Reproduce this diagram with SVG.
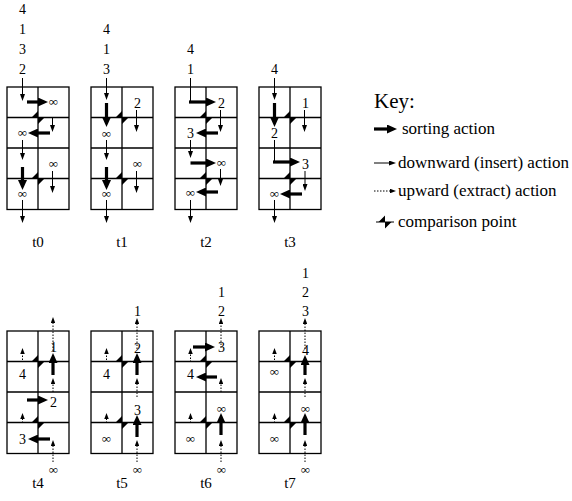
<svg xmlns="http://www.w3.org/2000/svg" xmlns:xlink="http://www.w3.org/1999/xlink" width="572" height="501" viewBox="0 0 572 501">
<style>
text{font-family:"Liberation Serif","Times New Roman",serif;fill:#000}
.n{font-size:14px;text-anchor:middle}
.inf{font-size:13px;text-anchor:middle}
.lab{font-size:15px;text-anchor:middle}
.key{font-size:17px}
.grid{fill:none;stroke:#000;stroke-width:1.3}
.tn{stroke:#000;stroke-width:1;fill:none}
.tna{stroke:#000;stroke-width:1;fill:none;marker-end:url(#ht)}
.tk{stroke:#000;stroke-width:3.2;fill:none;marker-end:url(#hk)}
.dt{stroke:#000;stroke-width:1;fill:none;stroke-dasharray:1.5 1.5;marker-end:url(#hd)}
</style>
<defs>
<marker id="ht" viewBox="0 0 7 5" refX="1" refY="2.5" markerWidth="7" markerHeight="5" orient="auto" markerUnits="userSpaceOnUse"><path d="M0,0L7,2.5L0,5Z"/></marker>
<marker id="hk" viewBox="0 0 10 9" refX="1" refY="4.5" markerWidth="10" markerHeight="9" orient="auto" markerUnits="userSpaceOnUse"><path d="M0,0L10,4.5L0,9Z"/></marker>
<marker id="hd" viewBox="0 0 6 4.5" refX="1" refY="2.25" markerWidth="6" markerHeight="4.5" orient="auto" markerUnits="userSpaceOnUse"><path d="M0,0L6,2.25L0,4.5Z"/></marker>
<path id="cp" d="M-6.5,0L0,-6.5L0,0ZM0,0L6.5,0L0,6.5Z"/>
<g id="grid">
<rect class="grid" x="0" y="0" width="62" height="122.5"/>
<path class="grid" d="M31,0V122.5M0,30.5H62M0,61H62M0,91.5H62"/>
<use xlink:href="#cp" x="31" y="30.5"/>
<use xlink:href="#cp" x="31" y="91.5"/>
</g>
</defs>

<g id="t0" transform="translate(7,87)">
<use xlink:href="#grid"/>
<text class="n" x="15.5" y="-73">4</text><text class="n" x="15.5" y="-53">1</text><text class="n" x="15.5" y="-33">3</text><text class="n" x="15.5" y="-13">2</text>
<text class="inf" x="46.5" y="18.5">∞</text>
<text class="inf" x="15.5" y="49.5">∞</text>
<text class="inf" x="46.5" y="80.5">∞</text>
<text class="inf" x="15.5" y="110.5">∞</text>
<text class="lab" x="31" y="160">t0</text>
</g>
<g id="t1" transform="translate(91,87)">
<use xlink:href="#grid"/>
<text class="n" x="15.5" y="-53">4</text><text class="n" x="15.5" y="-33">1</text><text class="n" x="15.5" y="-13">3</text>
<text class="n" x="46.5" y="21">2</text>
<text class="inf" x="15.5" y="50.5">∞</text>
<text class="inf" x="46.5" y="80.5">∞</text>
<text class="inf" x="15.5" y="110.5">∞</text>
<text class="lab" x="31" y="160">t1</text>
</g>
<g id="t2" transform="translate(175,87)">
<use xlink:href="#grid"/>
<text class="n" x="15.5" y="-33">4</text><text class="n" x="15.5" y="-13">1</text>
<text class="n" x="46.5" y="21">2</text>
<text class="n" x="15.5" y="51">3</text>
<text class="inf" x="46.5" y="79.5">∞</text>
<text class="inf" x="15.5" y="109.5">∞</text>
<text class="lab" x="31" y="160">t2</text>
</g>
<g id="t3" transform="translate(259,87)">
<use xlink:href="#grid"/>
<text class="n" x="15.5" y="-13">4</text>
<text class="n" x="46.5" y="21">1</text>
<text class="n" x="15.5" y="51">2</text>
<text class="n" x="46.5" y="81.5">3</text>
<text class="inf" x="15.5" y="110.5">∞</text>
<text class="lab" x="31" y="160">t3</text>
</g>

<g id="t4" transform="translate(7,331)">
<use xlink:href="#grid"/>
<text class="n" x="46.5" y="21">1</text>
<text class="n" x="15.5" y="48">4</text>
<text class="n" x="46.5" y="76">2</text>
<text class="n" x="15.5" y="113">3</text>
<text class="inf" x="46.5" y="142.5">∞</text>
<text class="lab" x="31" y="157">t4</text>
</g>
<g id="t5" transform="translate(91,331)">
<use xlink:href="#grid"/>
<text class="n" x="46.5" y="-15">1</text>
<text class="n" x="46.5" y="22">2</text>
<text class="n" x="15.5" y="48">4</text>
<text class="n" x="46.5" y="84">3</text>
<text class="inf" x="15.5" y="111.5">∞</text>
<text class="inf" x="46.5" y="142.5">∞</text>
<text class="lab" x="31" y="157">t5</text>
</g>
<g id="t6" transform="translate(175,331)">
<use xlink:href="#grid"/>
<text class="n" x="46.5" y="-34">1</text><text class="n" x="46.5" y="-15">2</text>
<text class="n" x="46.5" y="21">3</text>
<text class="n" x="15.5" y="48">4</text>
<text class="inf" x="46.5" y="81.5">∞</text>
<text class="inf" x="15.5" y="111.5">∞</text>
<text class="inf" x="46.5" y="142.5">∞</text>
<text class="lab" x="31" y="157">t6</text>
</g>
<g id="t7" transform="translate(259,331)">
<use xlink:href="#grid"/>
<text class="n" x="46.5" y="-53">1</text><text class="n" x="46.5" y="-34">2</text><text class="n" x="46.5" y="-15">3</text>
<text class="n" x="46.5" y="24">4</text>
<text class="inf" x="15.5" y="44.5">∞</text>
<text class="inf" x="46.5" y="81.5">∞</text>
<text class="inf" x="15.5" y="111.5">∞</text>
<text class="inf" x="46.5" y="142.5">∞</text>
<text class="lab" x="31" y="157">t7</text>
</g>

<g id="connectors">
<g transform="translate(7,87)">
<path class="tna" d="M15.5,-9V8"/>
<path class="tk" d="M20,15H32"/>
<path class="tna" d="M45.5,31V39"/>
<path class="tk" d="M43,46H30"/>
<path class="tna" d="M15.5,53V67"/>
<path class="tna" d="M45.5,84V100"/>
<path class="tk" d="M15.5,80V94"/>
<path class="tna" d="M15.5,113V130"/>
</g>
<g transform="translate(91,87)">
<path class="tna" d="M15.5,-9V7"/>
<path class="tk" d="M15.5,16V31"/>
<path class="tna" d="M45.5,23V39"/>
<path class="tna" d="M15.5,53V67"/>
<path class="tna" d="M45.5,84V100"/>
<path class="tk" d="M15.5,80V94"/>
<path class="tna" d="M15.5,113V130"/>
</g>
<g transform="translate(175,87)">
<path class="tn" d="M15.5,-9V15"/>
<path class="tk" d="M14,15H32"/>
<path class="tna" d="M45.5,23V39"/>
<path class="tk" d="M43,46H30"/>
<path class="tna" d="M15.5,53V65"/>
<path class="tk" d="M15.5,76H32"/>
<path class="tna" d="M45.5,82V93"/>
<path class="tk" d="M43,105H30"/>
<path class="tna" d="M15.5,113V130"/>
</g>
<g transform="translate(259,87)">
<path class="tna" d="M15.5,-9V7"/>
<path class="tk" d="M15.5,16V31"/>
<path class="tna" d="M45.5,23V39"/>
<path class="tn" d="M15.5,53V75"/>
<path class="tk" d="M14,75H32"/>
<path class="tna" d="M46,84V98"/>
<path class="tk" d="M43,107H30"/>
<path class="tna" d="M15.5,113V130"/>
</g>
<g transform="translate(7,331)">
<path class="dt" d="M46,20V-9"/>
<path class="tk" d="M46,44V31"/>
<path class="dt" d="M15.5,29V22"/>
<path class="dt" d="M46,61V52"/>
<path class="tk" d="M20,69H32"/>
<path class="dt" d="M15.5,92V87"/>
<path class="tk" d="M43,108H30"/>
<path class="dt" d="M46,131V114"/>
</g>
<g transform="translate(91,331)">
<path class="dt" d="M46,18V-8"/>
<path class="tk" d="M46,44V31"/>
<path class="dt" d="M15.5,29V22"/>
<path class="dt" d="M46,66V52"/>
<path class="tk" d="M46,106V93"/>
<path class="dt" d="M15.5,92V87"/>
<path class="dt" d="M46,131V114"/>
</g>
<g transform="translate(175,331)">
<path class="dt" d="M46,17V-8"/>
<path class="tk" d="M18,16H31"/>
<path class="dt" d="M15.5,31V22"/>
<path class="tk" d="M42,46H30"/>
<path class="dt" d="M46,61V52"/>
<path class="tk" d="M46,104V91"/>
<path class="dt" d="M15.5,92V87"/>
<path class="dt" d="M46,131V114"/>
</g>
<g transform="translate(259,331)">
<path class="dt" d="M46,18V-8"/>
<path class="tk" d="M46,44V33"/>
<path class="dt" d="M15.5,29V22"/>
<path class="dt" d="M46,66V52"/>
<path class="tk" d="M46,104V91"/>
<path class="dt" d="M15.5,92V87"/>
<path class="dt" d="M46,131V114"/>
</g>
</g>

<g id="legend">
<text x="374" y="108" style="font-size:21px">Key:</text>
<path class="tk" d="M374,129H388"/>
<text class="key" x="402" y="134">sorting action</text>
<path class="tna" d="M374,163H390"/>
<text class="key" x="398" y="168">downward (insert) action</text>
<path class="dt" d="M374,191H391"/>
<text class="key" x="398" y="196">upward (extract) action</text>
<path class="tn" d="M376,222H394"/>
<use xlink:href="#cp" x="385" y="222"/>
<text class="key" x="398" y="227">comparison point</text>
</g>
</svg>
